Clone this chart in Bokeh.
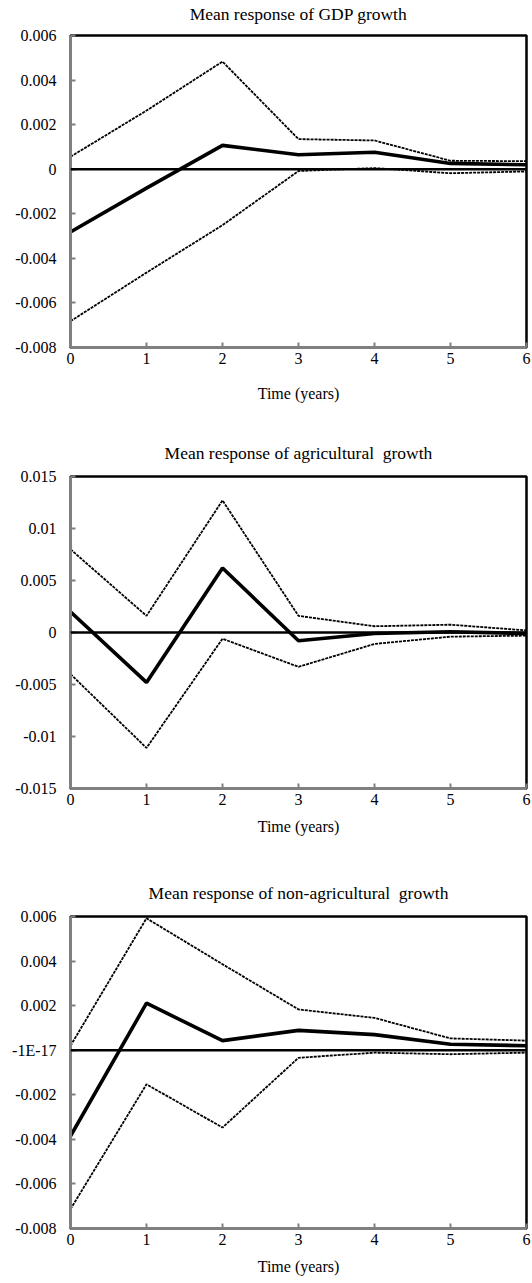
from bokeh.plotting import figure
from bokeh.layouts import column
from bokeh.models import Span, FixedTicker, Range1d, LinearAxis
from bokeh.embed import file_html
from bokeh.resources import INLINE

# Horizon (years after the shock)
years = [0, 1, 2, 3, 4, 5, 6]

# GDP growth: mean impulse response and its confidence bounds
gdp_mean = [-0.00282, -0.00085, 0.00107, 0.00065, 0.00076, 0.00026, 0.00020]
gdp_upper = [0.00056, 0.00263, 0.00483, 0.00135, 0.00129, 0.00038, 0.00036]
gdp_lower = [-0.00682, -0.00464, -0.00251, -0.00008, 0.00005, -0.00018, -0.00010]

# Agricultural growth
agr_mean = [0.0020, -0.0048, 0.0062, -0.0008, -0.0001, 0.00007, -0.0001]
agr_upper = [0.0080, 0.0016, 0.0127, 0.0016, 0.0006, 0.00075, 0.0002]
agr_lower = [-0.0040, -0.0111, -0.0006, -0.0033, -0.0011, -0.0004, -0.0003]

# Non-agricultural growth
nonagr_mean = [-0.00385, 0.00211, 0.00043, 0.00089, 0.00070, 0.00027, 0.00020]
nonagr_upper = [0.00020, 0.00592, 0.00386, 0.00183, 0.00145, 0.00053, 0.00043]
nonagr_lower = [-0.00713, -0.00153, -0.00347, -0.00034, -0.00011, -0.00018, -0.00011]

# Vertical axis ticks and their printed labels
gdp_ticks = [0.006, 0.004, 0.002, 0.0, -0.002, -0.004, -0.006, -0.008]
gdp_tick_labels = ["0.006", "0.004", "0.002", "0", "-0.002", "-0.004", "-0.006", "-0.008"]
agr_ticks = [0.015, 0.01, 0.005, 0.0, -0.005, -0.01, -0.015]
agr_tick_labels = ["0.015", "0.01", "0.005", "0", "-0.005", "-0.01", "-0.015"]
nonagr_ticks = [0.006, 0.004, 0.002, 0.0, -0.002, -0.004, -0.006, -0.008]
nonagr_tick_labels = ["0.006", "0.004", "0.002", "-1E-17", "-0.002", "-0.004", "-0.006", "-0.008"]
year_tick_labels = ["0", "1", "2", "3", "4", "5", "6"]

# (a no-break space keeps the wide gap before "growth")
titles = [
    "Mean response of GDP growth",
    "Mean response of agricultural\u00a0 growth",
    "Mean response of non-agricultural\u00a0 growth",
]
x_title = "Time (years)"

FONT = "Liberation Serif"
AXIS_GREY = "#808080"


def make_panel(title, mean, upper, lower, ticks, tick_labels, height, borders,
               title_gap, xlab_gap):
    left, right, top, bottom = borders
    p = figure(
        width=532, height=height,
        x_range=Range1d(years[0], years[-1]),
        y_range=Range1d(ticks[-1], ticks[0]),
        output_backend="svg", toolbar_location=None,
        min_border_left=left, min_border_right=right,
        min_border_top=top, min_border_bottom=bottom,
    )
    p.background_fill_color = "white"
    p.border_fill_color = "white"
    p.grid.visible = False
    p.outline_line_color = "black"
    p.outline_line_width = 2.5

    # confidence bounds
    for band in (upper, lower):
        p.line(years, band, line_color="black", line_width=1.8, line_dash="3 1")
    # mean response
    p.line(years, mean, line_color="black", line_width=3.6)
    # zero reference line
    p.add_layout(Span(location=0, dimension="width", line_color="black", line_width=2.5))

    for axes in (p.xaxis, p.yaxis):
        axes.axis_line_color = AXIS_GREY
        axes.axis_line_width = 3
        axes.major_tick_line_color = AXIS_GREY
        axes.major_tick_line_width = 2
        axes.major_tick_in = 5
        axes.major_tick_out = 0
        axes.minor_tick_in = 0
        axes.minor_tick_out = 0
        axes.major_label_text_font = FONT
        axes.major_label_text_font_size = "16px"
        axes.major_label_text_color = "black"

    p.xaxis.ticker = FixedTicker(ticks=years)
    p.xaxis.major_label_overrides = {y: s for y, s in zip(years, year_tick_labels)}
    p.xaxis.major_label_standoff = 5
    p.xaxis.axis_label = x_title
    p.xaxis.axis_label_text_font = FONT
    p.xaxis.axis_label_text_font_size = "16px"
    p.xaxis.axis_label_text_font_style = "normal"
    p.xaxis.axis_label_text_color = "black"
    p.xaxis.axis_label_standoff = xlab_gap

    p.yaxis.ticker = FixedTicker(ticks=ticks)
    p.yaxis.major_label_overrides = {t: s for t, s in zip(ticks, tick_labels)}
    p.yaxis.major_label_standoff = 14

    # chart heading, carried as the label of a bare axis above the frame
    heading = LinearAxis(
        ticker=FixedTicker(ticks=[]),
        axis_line_color=None,
        major_tick_in=0, major_tick_out=0, minor_tick_in=0, minor_tick_out=0,
        axis_label=title,
        axis_label_standoff=title_gap,
        axis_label_text_font=FONT,
        axis_label_text_font_size="17.5px",
        axis_label_text_font_style="normal",
        axis_label_text_color="black",
    )
    p.add_layout(heading, "above")
    return p


p1 = make_panel(titles[0], gdp_mean, gdp_upper, gdp_lower, gdp_ticks, gdp_tick_labels,
                420, (66, 6, 34, 73), 12, 18)
p2 = make_panel(titles[1], agr_mean, agr_upper, agr_lower, agr_ticks, agr_tick_labels,
                420, (69, 4, 56, 52), 14, 10)
p3 = make_panel(titles[2], nonagr_mean, nonagr_upper, nonagr_lower, nonagr_ticks,
                nonagr_tick_labels, 443, (70, 3, 76, 55), 14, 10)

layout = column(p1, p2, p3, spacing=0)

with open("out.html", "w") as f:
    f.write(file_html(layout, INLINE))
